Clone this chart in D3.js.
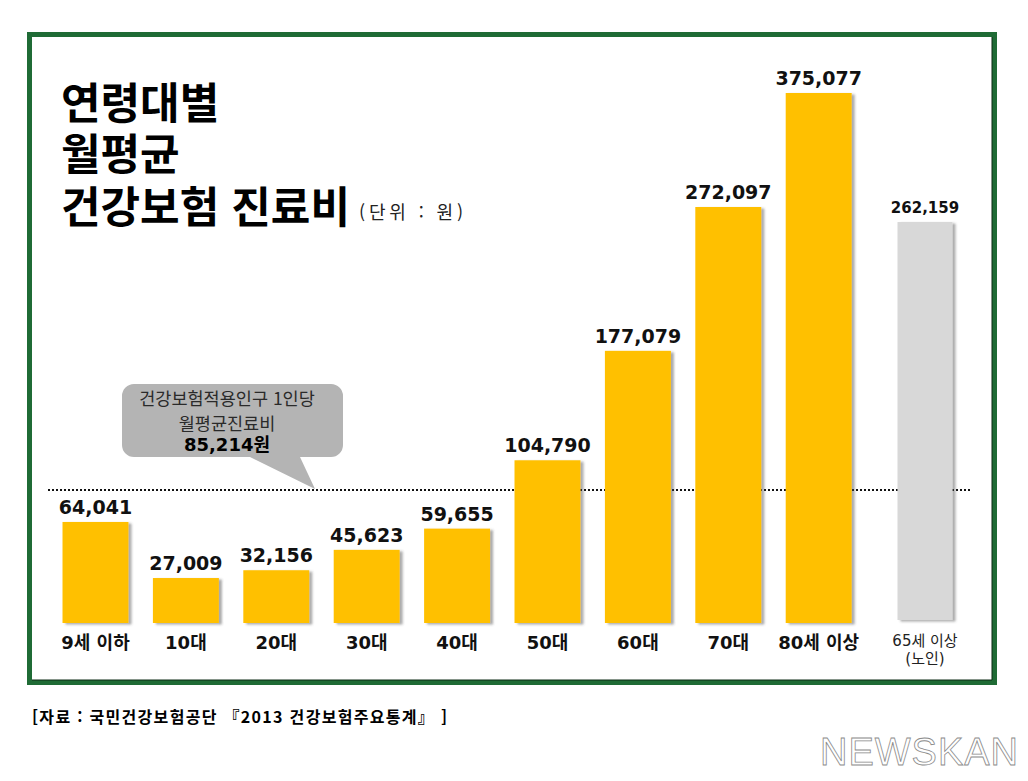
<!DOCTYPE html>
<html lang="ko">
<head>
<meta charset="utf-8">
<script src="https://cdn.jsdelivr.net/npm/d3@7"></script>
<style>
  html, body { margin: 0; padding: 0; background: #ffffff; }
  svg { display: block; }
</style>
</head>
<body>
<svg id="chart" width="1028" height="781"></svg>
<script>
// ---- data ----
const categories = ["9세 이하", "10대", "20대", "30대", "40대", "50대", "60대", "70대", "80세 이상"];
const values = [64041, 27009, 32156, 45623, 59655, 104790, 177079, 272097, 375077];
const elderlyCategory = ["65세 이상"];
const elderlyCategoryNote = ["(노인)"];
const elderlyValues = [262159];
const averageValue = 85214;
const titleLines = ["연령대별", "월평균", "건강보험 진료비"];
const unitLabel = "(단위 : 원)";
const calloutLines = ["건강보험적용인구 1인당", "월평균진료비"];
const calloutUnit = "원";
const sourceText = "[자료 : 국민건강보험공단  『2013  건강보험주요통계』 ]";
const logoText = "NEWSKAN";

// ---- setup ----
const svg = d3.select("#chart");
const fmt = d3.format(",");
const LATIN = "'DejaVu Sans', 'Noto Sans CJK KR', sans-serif";
const KR = "'Noto Sans CJK KR', 'DejaVu Sans', sans-serif";

const defs = svg.append("defs");
const f = defs.append("filter").attr("id", "barShadow")
  .attr("x", "-20%").attr("y", "-10%").attr("width", "140%").attr("height", "120%");
f.append("feDropShadow").attr("dx", 3).attr("dy", 1.5).attr("stdDeviation", 1.3)
  .attr("flood-color", "#444").attr("flood-opacity", 0.45);

// frame
svg.append("rect")
  .attr("x", 29.5).attr("y", 34.5).attr("width", 965).attr("height", 648)
  .attr("fill", "#ffffff").attr("stroke", "#1f6b35").attr("stroke-width", 5);
svg.append("path")
  .attr("d", "M992,37 L992,680 L32,680")
  .attr("fill", "none").attr("stroke", "#0d2a14").attr("stroke-width", 1);

// scales
const baseY = 623;
const y = d3.scaleLinear()
  .domain([-2700, 272097, d3.max(values)])
  .range([baseY, 207, 93]);

const x = d3.scaleBand()
  .domain(categories)
  .range([50.3, 863.9])
  .paddingInner(0.27)
  .paddingOuter(0.135);

const xe = d3.scaleBand()
  .domain(elderlyCategory)
  .range([897.5, 952.5])
  .padding(0);

// title (one text element, three lines)
const titleBaselines = [119, 170, 223];
const title = svg.append("text")
  .attr("font-family", KR).attr("font-weight", 700)
  .attr("font-size", 43).attr("fill", "#000");
title.selectAll("tspan").data(titleLines).join("tspan")
  .attr("x", 61).attr("y", (d, i) => titleBaselines[i]).text(d => d);
svg.append("text")
  .attr("x", 359).attr("y", 219)
  .attr("font-family", KR).attr("font-size", 18).attr("fill", "#222")
  .attr("textLength", 104).attr("lengthAdjust", "spacing")
  .text(unitLabel);

// average dotted line
svg.append("line")
  .attr("x1", 48).attr("x2", 970)
  .attr("y1", y(averageValue)).attr("y2", y(averageValue))
  .attr("stroke", "#111").attr("stroke-width", 2).attr("stroke-dasharray", "2,2");

// callout bubble
const cx0 = 122, cx1 = 343, cy0 = 384, cy1 = 457, r = 12;
const tipX = 315, tipY = y(averageValue) - 1;
const bubble = d3.path();
bubble.moveTo(cx0 + r, cy0);
bubble.lineTo(cx1 - r, cy0);
bubble.arcTo(cx1, cy0, cx1, cy0 + r, r);
bubble.lineTo(cx1, cy1 - r);
bubble.arcTo(cx1, cy1, cx1 - r, cy1, r);
bubble.lineTo(300, cy1);
bubble.lineTo(tipX, tipY);
bubble.lineTo(250, cy1);
bubble.lineTo(cx0 + r, cy1);
bubble.arcTo(cx0, cy1, cx0, cy1 - r, r);
bubble.lineTo(cx0, cy0 + r);
bubble.arcTo(cx0, cy0, cx0 + r, cy0, r);
bubble.closePath();
svg.append("path").attr("d", bubble.toString()).attr("fill", "#b4b4b4");

const callout = svg.append("text")
  .attr("text-anchor", "middle")
  .attr("font-family", KR).attr("font-size", 17.5).attr("fill", "#2a2a2a");
callout.selectAll("tspan.cl").data(calloutLines).join("tspan")
  .attr("class", "cl")
  .attr("x", 227).attr("y", (d, i) => 405 + i * 25)
  .text(d => d);
callout.append("tspan")
  .attr("x", 227).attr("y", 451)
  .attr("font-family", LATIN).attr("font-weight", 700).attr("font-size", 18).attr("fill", "#000")
  .text(fmt(averageValue));
callout.append("tspan")
  .attr("font-weight", 700).attr("font-size", 18).attr("fill", "#000")
  .text(calloutUnit);

// bars
const bars = svg.append("g");
bars.selectAll("rect").data(values).join("rect")
  .attr("x", (d, i) => x(categories[i]))
  .attr("width", x.bandwidth())
  .attr("y", d => y(d))
  .attr("height", d => baseY - y(d))
  .attr("fill", "#ffc000")
  .attr("filter", "url(#barShadow)");

bars.selectAll("text.val").data(values).join("text")
  .attr("class", "val")
  .attr("x", (d, i) => x(categories[i]) + x.bandwidth() / 2)
  .attr("y", d => y(d) - 8)
  .attr("text-anchor", "middle")
  .attr("font-family", LATIN).attr("font-weight", 700).attr("font-size", 19).attr("fill", "#111")
  .text(d => fmt(d));

bars.selectAll("text.cat").data(categories).join("text")
  .attr("class", "cat")
  .attr("x", d => x(d) + x.bandwidth() / 2)
  .attr("y", 649)
  .attr("text-anchor", "middle")
  .attr("font-family", LATIN).attr("font-weight", 700).attr("font-size", 18).attr("fill", "#111")
  .text(d => d);

// elderly (65+) bar
const eg = svg.append("g");
eg.selectAll("rect").data(elderlyValues).join("rect")
  .attr("x", (d, i) => xe(elderlyCategory[i]))
  .attr("width", xe.bandwidth())
  .attr("y", d => y(d))
  .attr("height", d => baseY - 3 - y(d))
  .attr("fill", "#d8d8d8")
  .attr("filter", "url(#barShadow)");
eg.selectAll("text.val").data(elderlyValues).join("text")
  .attr("class", "val")
  .attr("x", (d, i) => xe(elderlyCategory[i]) + xe.bandwidth() / 2)
  .attr("y", d => y(d) - 9)
  .attr("text-anchor", "middle")
  .attr("font-family", LATIN).attr("font-weight", 700).attr("font-size", 15).attr("fill", "#111")
  .text(d => fmt(d));
const eLabel = eg.append("text")
  .attr("text-anchor", "middle")
  .attr("font-family", LATIN).attr("font-size", 15).attr("fill", "#222");
eLabel.selectAll("tspan.cat").data(elderlyCategory).join("tspan")
  .attr("class", "cat")
  .attr("x", d => xe(d) + xe.bandwidth() / 2)
  .attr("y", 646)
  .text(d => d);
eLabel.selectAll("tspan.note").data(elderlyCategoryNote).join("tspan")
  .attr("class", "note")
  .attr("x", (d, i) => xe(elderlyCategory[i]) + xe.bandwidth() / 2)
  .attr("y", 664)
  .text(d => d);

// source
svg.append("text")
  .attr("x", 32).attr("y", 723)
  .attr("font-family", KR).attr("font-weight", 700).attr("font-size", 16).attr("fill", "#000")
  .attr("textLength", 415).attr("lengthAdjust", "spacing")
  .text(sourceText);

// logo
svg.append("text")
  .attr("x", 820).attr("y", 765)
  .attr("font-family", "'Liberation Sans', Arial, sans-serif").attr("font-size", 38)
  .attr("fill", "#ffffff").attr("stroke", "#8a8a8a").attr("stroke-width", 0.8)
  .attr("textLength", 198).attr("lengthAdjust", "spacing")
  .text(logoText);
</script>
</body>
</html>
